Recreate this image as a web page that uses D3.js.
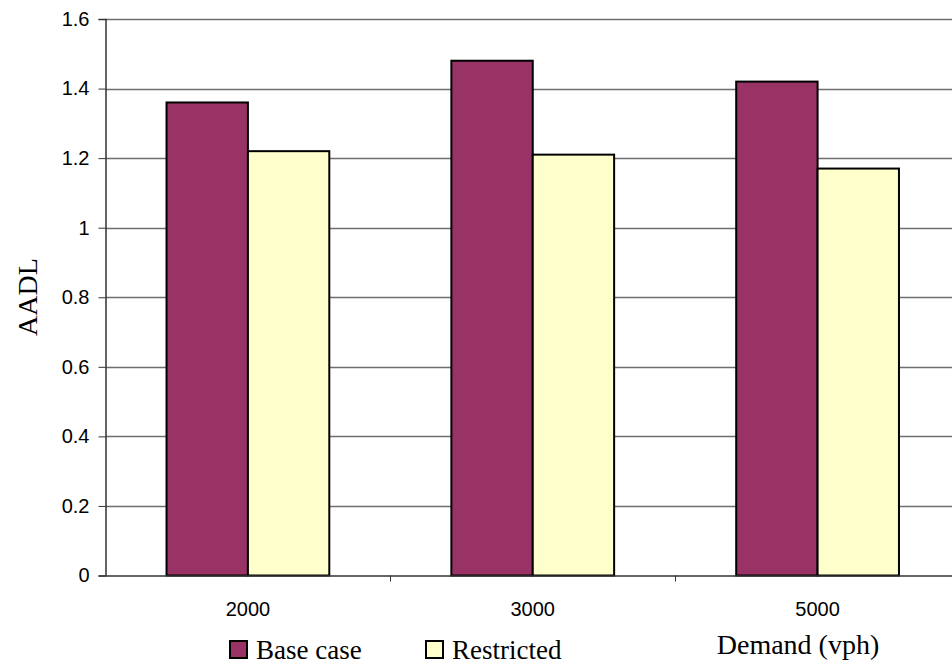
<!DOCTYPE html>
<html>
<head>
<meta charset="utf-8">
<script src="https://cdn.jsdelivr.net/npm/d3@7"></script>
<style>
body { margin: 0; background: #fff; }
svg { display: block; }
</style>
</head>
<body>
<svg id="chart" width="952" height="669"></svg>
<script>
const categories = ["2000", "3000", "5000"];
const seriesNames = ["Base case", "Restricted"];
const baseCase = [1.36, 1.48, 1.42];
const restricted = [1.22, 1.21, 1.17];
const yTicks = [0, 0.2, 0.4, 0.6, 0.8, 1, 1.2, 1.4, 1.6];
const colors = ["#993366", "#FFFFCC"];

const svg = d3.select("#chart");
const mLeft = 105.5, mRight = 960, mTop = 19, mBottom = 575.5;

const x = d3.scaleBand().domain(categories).range([mLeft, mRight]).padding(0);
const xs = d3.scaleBand().domain(seriesNames).range([0, x.bandwidth()]).paddingInner(0).paddingOuter(0.75);
const y = d3.scaleLinear().domain([0, 1.6]).range([mBottom, mTop]);

// gridlines
svg.append("g").selectAll("line").data(yTicks.filter(d => d > 0)).join("line")
  .attr("x1", mLeft).attr("x2", 952)
  .attr("y1", d => Math.round(y(d)) + 0.5).attr("y2", d => Math.round(y(d)) + 0.5)
  .attr("stroke", "#6e6e6e").attr("stroke-width", 1.3);

// bars
const data = categories.map((c, i) => ({ c, vals: [baseCase[i], restricted[i]] }));
const groups = svg.append("g").selectAll("g").data(data).join("g")
  .attr("transform", d => `translate(${x(d.c)},0)`);
groups.selectAll("rect").data(d => d.vals.map((v, j) => ({ v, s: seriesNames[j], j }))).join("rect")
  .attr("x", d => xs(d.s))
  .attr("width", xs.bandwidth())
  .attr("y", d => y(d.v))
  .attr("height", d => y(0) - y(d.v))
  .attr("fill", d => colors[d.j])
  .attr("stroke", "#000").attr("stroke-width", 2);

// y axis
const yAxis = d3.axisLeft(y).tickValues(yTicks).tickFormat(d => d3.format("")(+d.toFixed(1))).tickSize(7).tickPadding(9);
const gy = svg.append("g").attr("transform", `translate(${mLeft},0)`).call(yAxis);
gy.select(".domain").attr("stroke", "#333").attr("stroke-width", 1.5);
gy.selectAll(".tick line").attr("stroke", "#333");
gy.selectAll("text").attr("font-family", "Liberation Sans, Arial, sans-serif").attr("font-size", 20).attr("fill", "#000");

// x axis
const xAxis = d3.axisBottom(x).tickSize(0).tickPadding(26);
const gx = svg.append("g").attr("transform", `translate(0,${mBottom})`).call(xAxis);
gx.select(".domain").attr("stroke", "#333").attr("stroke-width", 1.5);
gx.selectAll("text").attr("font-family", "Liberation Sans, Arial, sans-serif").attr("font-size", 20).attr("fill", "#000");
// category separator ticks
svg.append("g").selectAll("line").data(categories.slice(1)).join("line")
  .attr("x1", d => Math.round(x(d)) + 0.5).attr("x2", d => Math.round(x(d)) + 0.5)
  .attr("y1", mBottom).attr("y2", mBottom + 6)
  .attr("stroke", "#333").attr("stroke-width", 1);

// axis titles
svg.append("text")
  .attr("transform", "translate(37,297) rotate(-90)")
  .attr("text-anchor", "middle")
  .attr("font-family", "Liberation Serif, Times New Roman, serif")
  .attr("font-size", 28)
  .text("AADL");
svg.append("text")
  .attr("x", 798).attr("y", 654)
  .attr("text-anchor", "middle")
  .attr("font-family", "Liberation Serif, Times New Roman, serif")
  .attr("font-size", 28)
  .text("Demand (vph)");

// legend
const legendX = [230, 426];
const lg = svg.append("g").selectAll("g").data(seriesNames).join("g")
  .attr("transform", (d, i) => `translate(${legendX[i]},641)`);
lg.append("rect").attr("width", 17).attr("height", 17)
  .attr("fill", (d, i) => colors[i]).attr("stroke", "#000").attr("stroke-width", 2);
lg.append("text").attr("x", 26).attr("y", 18)
  .attr("font-family", "Liberation Serif, Times New Roman, serif")
  .attr("font-size", 27)
  .text(d => d);
</script>
</body>
</html>
